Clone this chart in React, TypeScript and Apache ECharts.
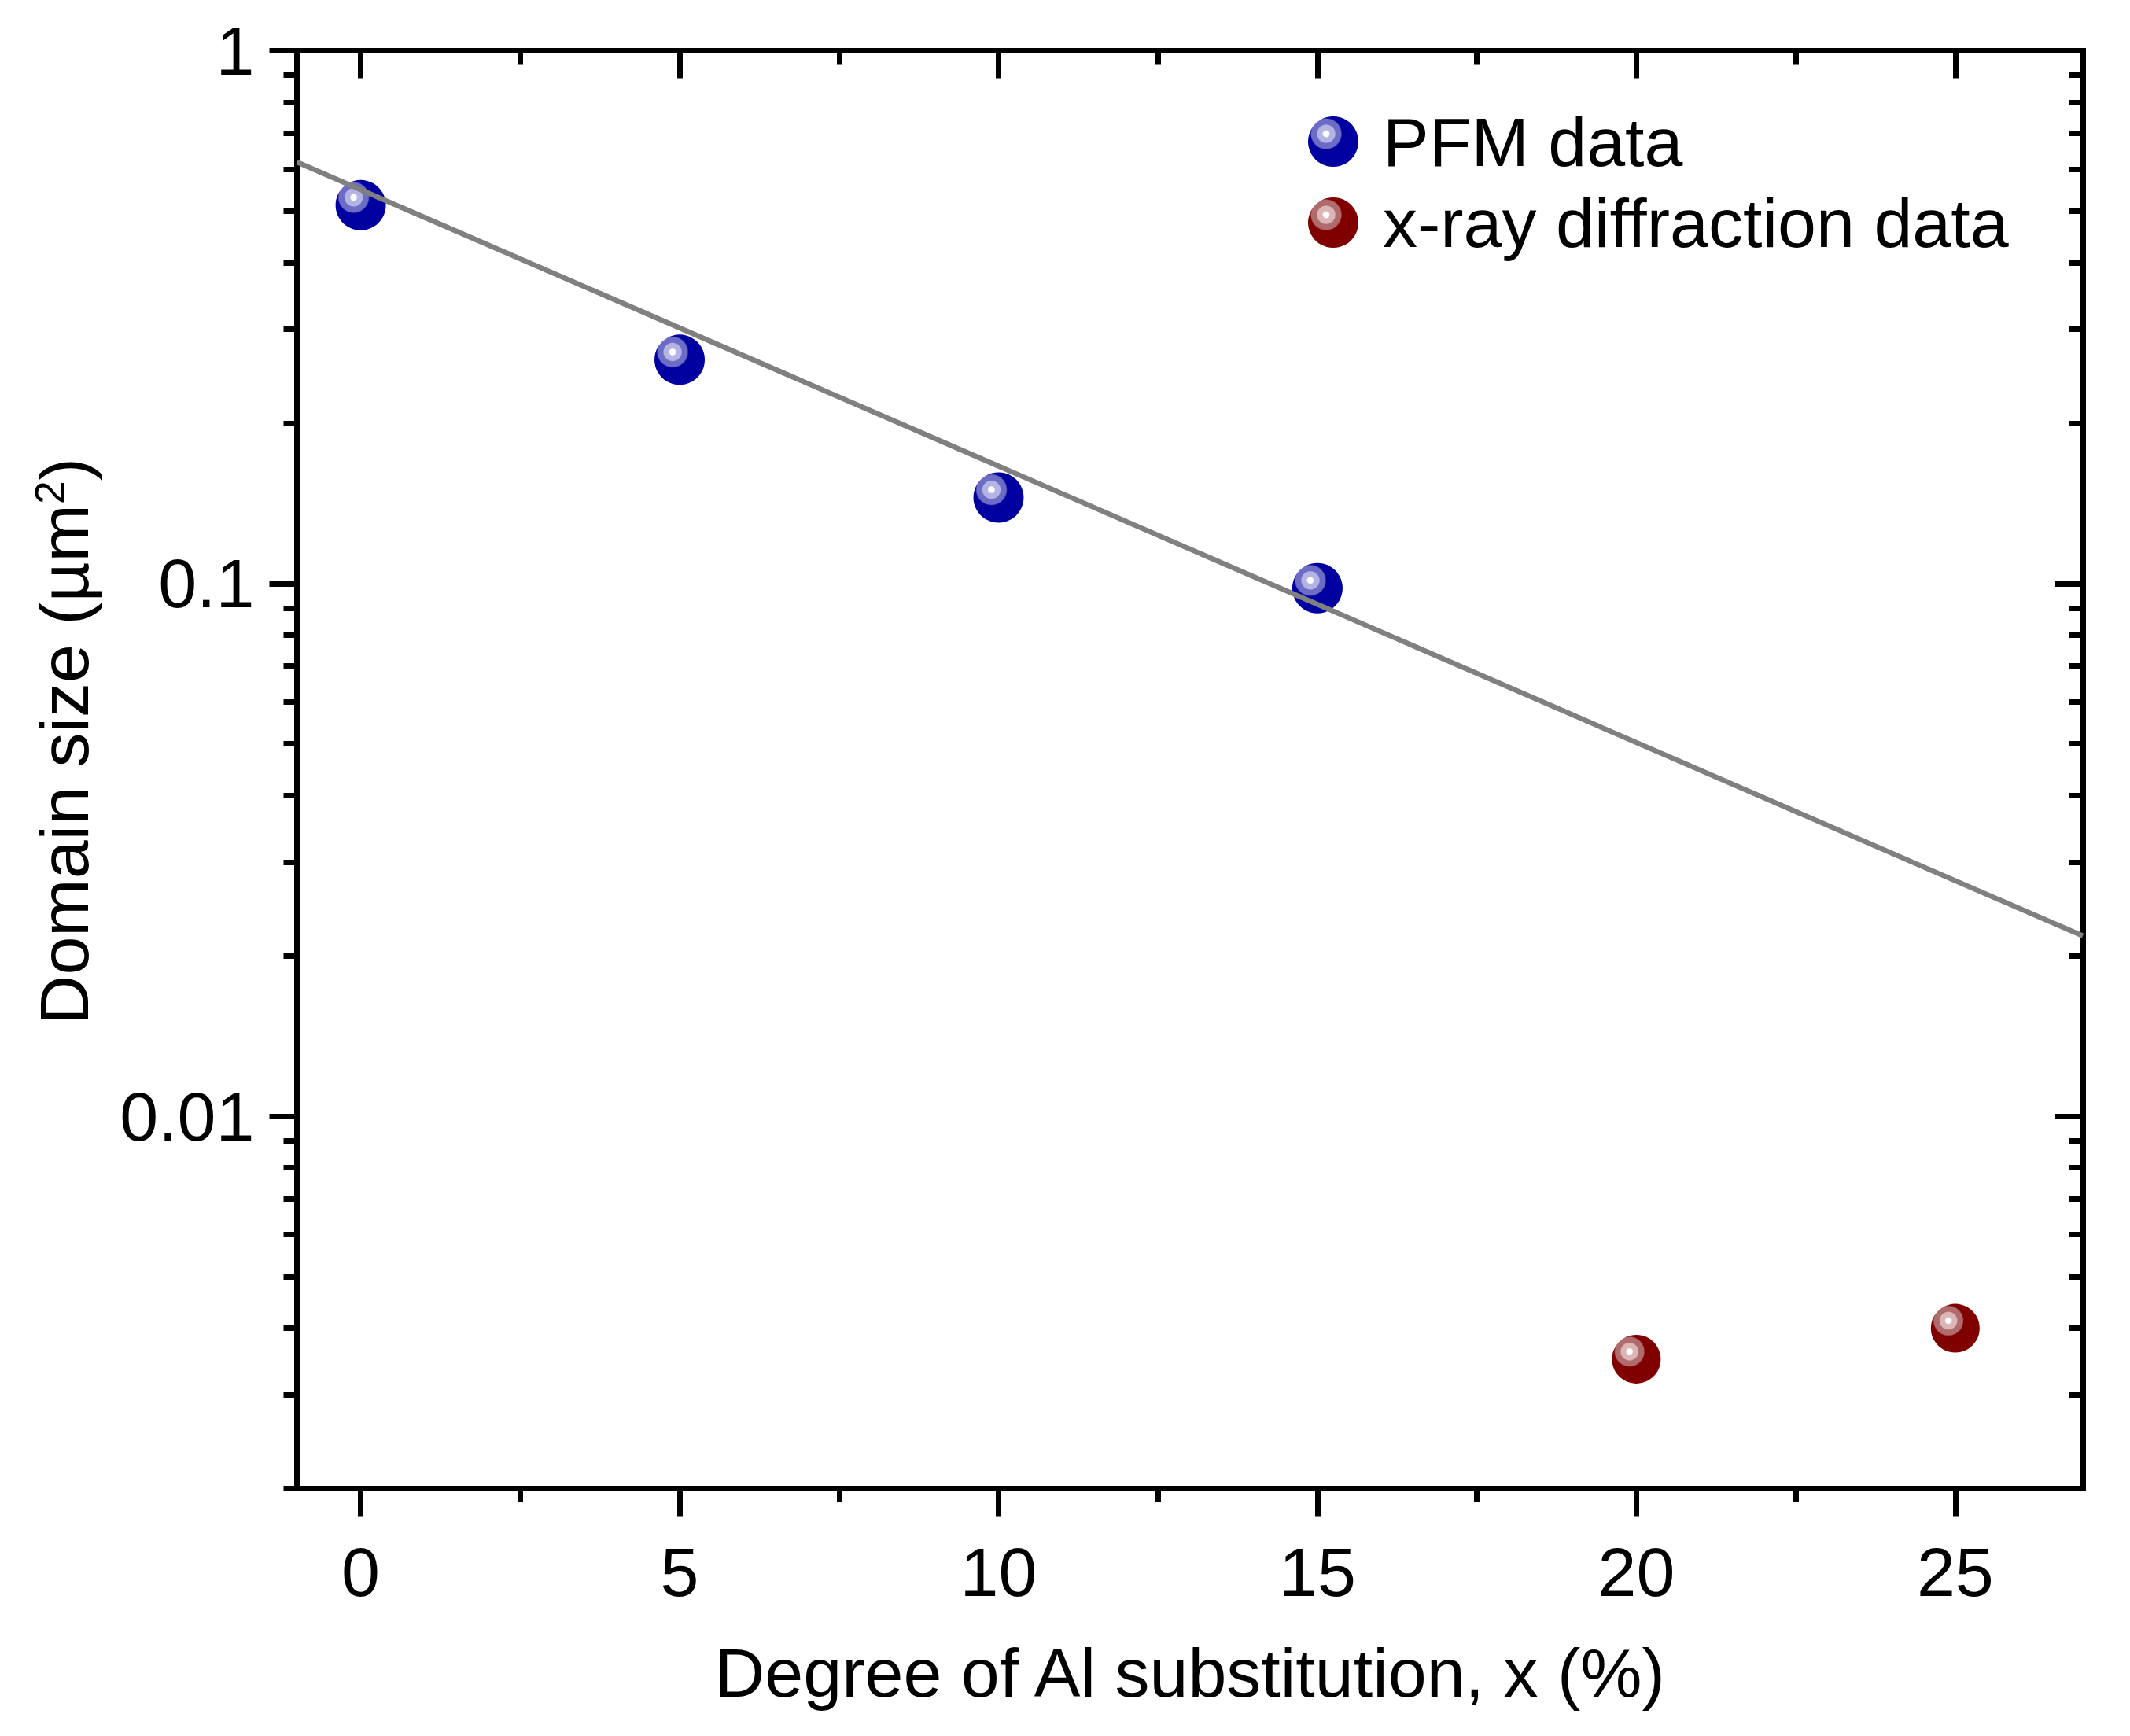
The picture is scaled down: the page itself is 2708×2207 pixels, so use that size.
import React, { useEffect, useRef } from "react";
import * as echarts from "echarts";

// ---- data ----
const pfmX = [0, 5, 10, 15];
const pfmY = [0.513, 0.263, 0.145, 0.098];
const xrdX = [20, 25];
const xrdY = [0.0035, 0.004];
const fitX = [-1, 27];
const fitY = [0.618, 0.0218];

// ---- axis ticks / labels ----
const xMajorTicks = [0, 5, 10, 15, 20, 25];
const xMinorTicks = [2.5, 7.5, 12.5, 17.5, 22.5];
const yMajorTicks = [0.01, 0.1, 1];
const yMinorTicks = [
  0.00200001, 0.003, 0.004, 0.005, 0.006, 0.007, 0.008, 0.009,
  0.02, 0.03, 0.04, 0.05, 0.06, 0.07, 0.08, 0.09,
  0.2, 0.3, 0.4, 0.5, 0.6, 0.7, 0.8, 0.9,
];

const seriesNames = ["PFM data", "x-ray diffraction data"];
const xTitle = "Degree of Al substitution, x (%)";
const yTitle = "{a|Domain size (\u00b5m}{s|2}{a|)}";

const FONT = '"Liberation Sans", Arial, Helvetica, sans-serif';

const ball = (light: string, mid: string, body: string) => ({
  type: "radial",
  x: 0.36,
  y: 0.345,
  r: 0.33,
  colorStops: [
    { offset: 0, color: "#ffffff" },
    { offset: 0.17, color: "#fbfbfd" },
    { offset: 0.24, color: light },
    { offset: 0.52, color: light },
    { offset: 0.58, color: mid },
    { offset: 0.88, color: mid },
    { offset: 0.96, color: body },
    { offset: 1, color: body },
  ],
});

export default function App() {
  const ref = useRef<HTMLDivElement>(null);

  useEffect(() => {
    if (!ref.current) return;
    const chart = echarts.init(ref.current, undefined, { renderer: "svg" });

    const AX = "#000";
    const LW = 7;
    const MAJ = 35;
    const MIN = 17;

    const xBase = {
      type: "value",
      min: -1,
      max: 27,
      splitLine: { show: false },
      axisLine: { show: false, onZero: false },
      axisLabel: { show: false },
    };
    const yBase = {
      type: "log",
      logBase: 10,
      min: 0.002,
      max: 1,
      splitLine: { show: false },
      axisLine: { show: false, onZero: false },
      axisLabel: { show: false },
    };
    const lineStyle = { color: AX, width: LW, cap: "square" };

    const option: any = {
      animation: false,
      backgroundColor: "#ffffff",
      textStyle: { fontFamily: FONT },
      grid: { left: 377.5, top: 64.5, width: 2270.5, height: 1828, containLabel: false },
      legend: {
        orient: "vertical",
        left: 1663,
        top: 136,
        padding: 0,
        itemWidth: 116,
        itemHeight: 64,
        itemGap: 15,
        symbolKeepAspect: true,
        icon: "circle",
        data: seriesNames,
        textStyle: { fontSize: 88, color: "#000", fontFamily: FONT },
      },
      xAxis: [
        {
          ...xBase,
          position: "bottom",
          axisLine: { show: true, onZero: false, lineStyle },
          axisTick: { show: true, inside: false, length: MAJ, customValues: xMajorTicks, lineStyle: { color: AX, width: LW } },
          axisLabel: {
            show: true,
            customValues: xMajorTicks,
            margin: 62,
            fontSize: 88,
            color: "#000",
            fontFamily: FONT,
            formatter: (v: number) => String(v),
          },
          name: xTitle,
          nameLocation: "middle",
          nameGap: 190,
          nameTextStyle: { fontSize: 88, color: "#000", fontFamily: FONT },
        },
        {
          ...xBase,
          position: "bottom",
          axisTick: { show: true, inside: false, length: MIN, customValues: xMinorTicks, lineStyle: { color: AX, width: LW } },
        },
        {
          ...xBase,
          position: "top",
          axisLine: { show: true, onZero: false, lineStyle },
          axisTick: { show: true, inside: true, length: MAJ, customValues: xMajorTicks, lineStyle: { color: AX, width: LW } },
        },
        {
          ...xBase,
          position: "top",
          axisTick: { show: true, inside: true, length: MIN, customValues: xMinorTicks, lineStyle: { color: AX, width: LW } },
        },
      ],
      yAxis: [
        {
          ...yBase,
          position: "left",
          axisLine: { show: true, onZero: false, lineStyle },
          axisTick: { show: true, inside: false, length: MAJ, customValues: yMajorTicks, lineStyle: { color: AX, width: LW } },
          axisLabel: {
            show: true,
            customValues: yMajorTicks,
            margin: 54,
            fontSize: 88,
            color: "#000",
            fontFamily: FONT,
            formatter: (v: number) => String(v),
          },
          name: yTitle,
          nameLocation: "middle",
          nameGap: 252,
          nameTextStyle: {
            fontSize: 88,
            color: "#000",
            fontFamily: FONT,
            padding: [0, 0, 0, 72],
            rich: {
              a: { fontSize: 88, color: "#000", fontFamily: FONT, lineHeight: 100, verticalAlign: "bottom" },
              s: { fontSize: 54, color: "#000", fontFamily: FONT, lineHeight: 100, verticalAlign: "top", padding: [10, 0, 0, 0] },
            },
          },
        },
        {
          ...yBase,
          position: "left",
          axisTick: { show: true, inside: false, length: MIN, customValues: yMinorTicks, lineStyle: { color: AX, width: LW } },
        },
        {
          ...yBase,
          position: "right",
          axisLine: { show: true, onZero: false, lineStyle },
          axisTick: { show: true, inside: true, length: MAJ, customValues: yMajorTicks, lineStyle: { color: AX, width: LW } },
        },
        {
          ...yBase,
          position: "right",
          axisTick: { show: true, inside: true, length: MIN, customValues: yMinorTicks, lineStyle: { color: AX, width: LW } },
        },
      ],
      series: [
        {
          name: seriesNames[0],
          type: "scatter",
          xAxisIndex: 0,
          yAxisIndex: 0,
          symbol: "circle",
          symbolSize: 64,
          itemStyle: { color: ball("#b4b4e4", "#6c6cc6", "#0000a0"), opacity: 1 },
          data: pfmX.map((x, i) => [x, pfmY[i]]),
        },
        {
          name: seriesNames[1],
          type: "scatter",
          xAxisIndex: 0,
          yAxisIndex: 0,
          symbol: "circle",
          symbolSize: 62,
          itemStyle: { color: ball("#dcb6b6", "#b06c6c", "#800000"), opacity: 1 },
          data: xrdX.map((x, i) => [x, xrdY[i]]),
        },
        {
          name: "fit",
          type: "line",
          xAxisIndex: 0,
          yAxisIndex: 0,
          symbol: "none",
          silent: true,
          lineStyle: { color: "#808080", width: 6.5 },
          data: fitX.map((x, i) => [x, fitY[i]]),
        },
      ],
    };

    chart.setOption(option);
    return () => chart.dispose();
  }, []);

  return (
    <div
      ref={ref}
      style={{ position: "fixed", left: 0, top: 0, width: 2708, height: 2207, background: "#fff" }}
    />
  );
}
